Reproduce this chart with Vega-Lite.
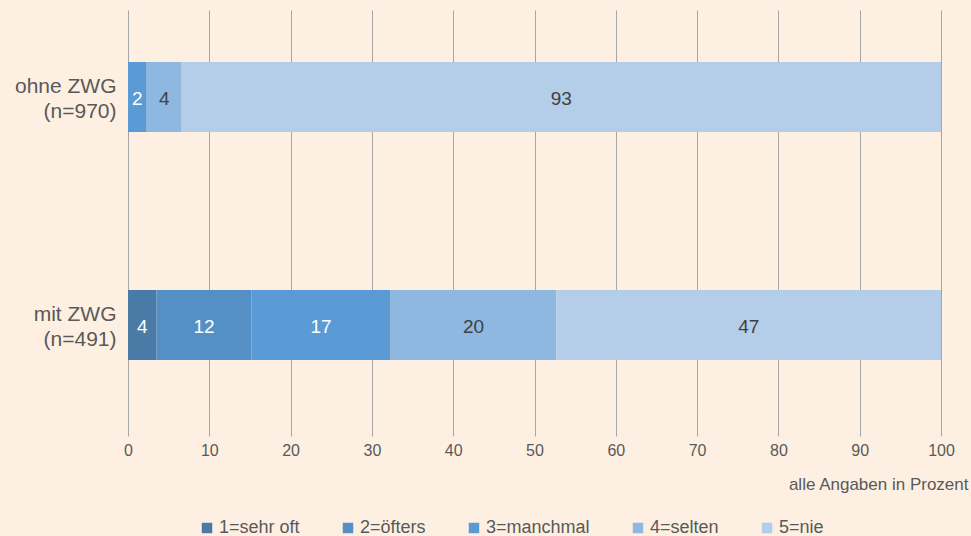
{
  "$schema": "https://vega.github.io/schema/vega-lite/v6.json",
  "width": 813,
  "height": 402,
  "autosize": {"type": "none"},
  "padding": {"left": 128, "top": 10, "right": 30, "bottom": 124},
  "background": "#FDF0E2",
  "config": {"view": {"stroke": null}, "font": "Liberation Sans"},
  "data": {
    "values": [
      {"gruppe": "ohne ZWG|(n=970)", "kategorie": "1=sehr oft", "ord": 1, "wert": 0},
      {"gruppe": "ohne ZWG|(n=970)", "kategorie": "2=öfters", "ord": 2, "wert": 0},
      {"gruppe": "ohne ZWG|(n=970)", "kategorie": "3=manchmal", "ord": 3, "wert": 2.3},
      {"gruppe": "ohne ZWG|(n=970)", "kategorie": "4=selten", "ord": 4, "wert": 4.3},
      {"gruppe": "ohne ZWG|(n=970)", "kategorie": "5=nie", "ord": 5, "wert": 93.4},
      {"gruppe": "mit ZWG|(n=491)", "kategorie": "1=sehr oft", "ord": 1, "wert": 3.5},
      {"gruppe": "mit ZWG|(n=491)", "kategorie": "2=öfters", "ord": 2, "wert": 11.7},
      {"gruppe": "mit ZWG|(n=491)", "kategorie": "3=manchmal", "ord": 3, "wert": 17.1},
      {"gruppe": "mit ZWG|(n=491)", "kategorie": "4=selten", "ord": 4, "wert": 20.4},
      {"gruppe": "mit ZWG|(n=491)", "kategorie": "5=nie", "ord": 5, "wert": 47.3}
    ]
  },
  "transform": [
    {"stack": "wert", "groupby": ["gruppe"], "sort": [{"field": "ord", "order": "ascending"}], "as": ["x0", "x1"]},
    {"calculate": "(datum.x0 + datum.x1) / 2", "as": "xm"}
  ],
  "encoding": {
    "y": {
      "field": "gruppe",
      "type": "nominal",
      "sort": ["ohne ZWG|(n=970)", "mit ZWG|(n=491)"],
      "scale": {"paddingInner": 0.693, "paddingOuter": 0.228},
      "axis": {
        "title": null,
        "domain": false,
        "ticks": false,
        "labelExpr": "split(datum.label, '|')",
        "labelFontSize": 21,
        "labelLineHeight": 25,
        "labelColor": "#595959",
        "labelPadding": 12,
        "labelBaseline": "middle",
        "labelOffset": -10
      }
    }
  },
  "layer": [
    {
      "mark": {"type": "bar", "strokeWidth": 0},
      "encoding": {
        "x": {
          "field": "x0",
          "type": "quantitative",
          "scale": {"domain": [0, 100], "nice": false},
          "axis": {
            "values": [0, 10, 20, 30, 40, 50, 60, 70, 80, 90, 100],
            "grid": true,
            "gridColor": "#A6A6A6",
            "gridWidth": 1,
            "domain": false,
            "ticks": true,
            "tickSize": 24,
            "tickColor": "#A6A6A6",
            "labelFontSize": 16,
            "labelColor": "#595959",
            "labelPadding": 6,
            "labelFlush": false,
            "title": "alle Angaben in Prozent",
            "titleFontSize": 17,
            "titleFontWeight": "normal",
            "titleColor": "#595959",
            "titleAlign": "right",
            "titleAnchor": "end",
            "titleX": 840,
            "titlePadding": 18
          }
        },
        "x2": {"field": "x1"},
        "color": {
          "field": "kategorie",
          "type": "nominal",
          "scale": {
            "domain": ["1=sehr oft", "2=öfters", "3=manchmal", "4=selten", "5=nie"],
            "range": ["#4A7BA7", "#5490C5", "#5B9BD5", "#8FB8E0", "#B4CDE9"]
          },
          "legend": {
            "title": null,
            "orient": "none",
            "direction": "horizontal",
            "legendX": 70,
            "legendY": 509,
            "symbolType": "square",
            "symbolSize": 110,
            "symbolStrokeWidth": 0,
            "labelFontSize": 18,
            "labelColor": "#595959",
            "labelOffset": 3,
            "columnPadding": 39
          }
        }
      }
    },
    {
      "transform": [{"filter": "datum.wert > 0.5"}],
      "mark": {"type": "text", "fontSize": 19, "baseline": "middle", "align": "center", "dy": 2},
      "encoding": {
        "x": {"field": "xm", "type": "quantitative"},
        "text": {"field": "wert", "type": "quantitative", "format": ".0f"},
        "color": {"condition": {"test": "datum.ord <= 3", "value": "#FFFFFF"}, "value": "#404040"}
      }
    }
  ]
}
